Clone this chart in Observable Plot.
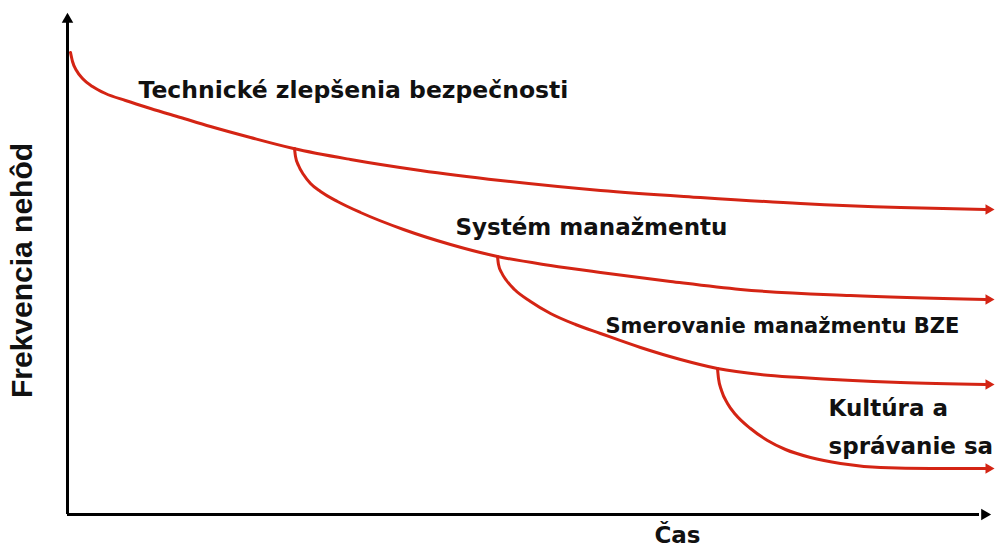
<!DOCTYPE html>
<html>
<head>
<meta charset="utf-8">
<script src="https://cdn.jsdelivr.net/npm/d3@7"></script>
<script src="https://cdn.jsdelivr.net/npm/@observablehq/plot@0.6"></script>
<style>
  html, body { margin: 0; padding: 0; background: #fff; }
  #chart { width: 995px; height: 550px; }
</style>
</head>
<body>
<div id="chart"></div>
<script>
// Units: time (0..920) on x, accident frequency (0..500) on y.
const seriesNames = ["Technické", "Systém", "Smerovanie", "Kultúra"];

const techTime = [3, 5, 9, 15, 25, 38, 58, 83, 113, 143, 183, 226, 283, 353, 433, 533, 633, 733, 833, 918];
const techFreq = [462, 453, 444, 436, 428, 421, 414, 406, 397, 388, 377, 366, 355, 344, 334, 324, 317, 311, 307, 305];

const sysTime = [227, 228, 231, 236, 243, 253, 270, 293, 336, 383, 430, 483, 533, 603, 673, 783, 918];
const sysFreq = [366, 358, 349, 340, 331, 323, 313, 302, 285, 270, 258, 249, 242, 233, 225, 219, 215];

const smerTime = [430, 431, 434, 439, 447, 463, 483, 508, 533, 573, 613, 650, 693, 733, 833, 918];
const smerFreq = [258, 250, 242, 234, 225, 213, 201, 190, 181, 167, 155, 146, 140, 137, 132, 130];

const kultTime = [650, 651, 654, 660, 668, 683, 700, 718, 743, 773, 813, 863, 918];
const kultFreq = [146, 136, 124, 111, 100, 86, 74, 65, 57, 51, 47, 46, 46];

const labelText = ["Technické zlepšenia bezpečnosti", "Systém manažmentu", "Smerovanie manažmentu BZE", "Kultúra a", "správanie sa"];
const labelTime = [71, 388, 538, 761, 761];
const labelFreq = [424, 287, 188, 106, 68];
const labelSize = [23.5, 23, 21, 23, 23];

const xTitle = "Čas";
const yTitle = "Frekvencia nehôd";

const curves = [
  [techTime, techFreq], [sysTime, sysFreq], [smerTime, smerFreq], [kultTime, kultFreq]
].flatMap(([t, f], i) => t.map((x, j) => ({series: seriesNames[i], x, y: f[j]})));
const ends = seriesNames.map(s => { const pts = curves.filter(d => d.series === s); return pts[pts.length - 1]; });
const labels = labelText.map((text, i) => ({text, x: labelTime[i], y: labelFreq[i], size: labelSize[i]}));

const red = "#d42414";
const font = "DejaVu Sans, Verdana, sans-serif";

const chart = Plot.plot({
  width: 995,
  height: 550,
  marginLeft: 67,
  marginRight: 8,
  marginTop: 14,
  marginBottom: 36,
  x: {domain: [0, 920], axis: null},
  y: {domain: [0, 500], axis: null},
  style: {fontFamily: font, background: "#fff", overflow: "visible"},
  marks: [
    Plot.ruleY([0], {x1: 0, x2: 912, stroke: "#000", strokeWidth: 3}),
    Plot.ruleX([0], {y1: 0, y2: 492, stroke: "#000", strokeWidth: 3}),
    Plot.dot([{x: 917, y: 0}], {x: "x", y: "y", symbol: "triangle2", rotate: 90, r: 5.5, fill: "#000"}),
    Plot.dot([{x: 0, y: 495}], {x: "x", y: "y", symbol: "triangle2", rotate: 0, r: 5.5, fill: "#000"}),
    Plot.line(curves, {x: "x", y: "y", z: "series", stroke: red, strokeWidth: 3, curve: "monotone-x"}),
    Plot.dot(ends, {x: "x", y: "y", symbol: "triangle2", rotate: 90, r: 5, fill: red, dx: 3}),
    Plot.text(labels, {x: "x", y: "y", text: "text", textAnchor: "start", fontSize: "size", fontWeight: "bold", fill: "#111", fontFamily: font}),
    Plot.text([xTitle], {x: 610, y: -21, text: d => d, fontSize: 23, fontWeight: "bold", fill: "#111", fontFamily: font}),
    Plot.text([yTitle], {x: -45, y: 244, text: d => d, rotate: -90, fontSize: 30, fontWeight: "bold", fill: "#111", fontFamily: "Liberation Sans, Arial, sans-serif"})
  ]
});
document.getElementById("chart").appendChild(chart);
</script>
</body>
</html>
